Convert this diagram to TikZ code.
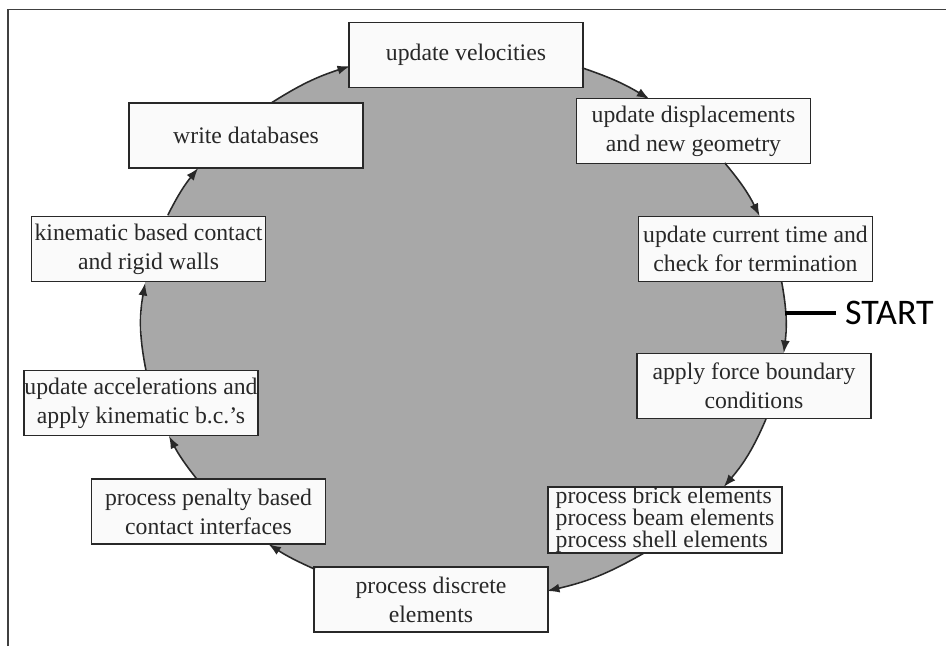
\documentclass[tikz,border=0pt]{standalone}
\usepackage{fontspec}
\setmainfont{Liberation Serif}
\newfontfamily\startfont{Carlito}
\usepackage{xcolor}
\usepackage{tikz}
\usetikzlibrary{arrows.meta}
\definecolor{ringgray}{RGB}{168,168,168}
\definecolor{boxfill}{RGB}{250,250,250}
\definecolor{inkgray}{RGB}{40,40,40}
\tikzset{
  task/.style={rectangle, draw=inkgray, line width=1pt, fill=boxfill, minimum width=4.68cm, minimum height=1.3cm, inner sep=0pt, align=center, text=inkgray, font=\fontsize{13.5}{16.5}\selectfont},
  arrow/.style={-{Latex[length=2.5mm,width=1.8mm]}, line width=0.9pt, draw=inkgray},
  startlbl/.style={anchor=west, inner xsep=5pt, inner ysep=0pt, text=black, font=\startfont\fontsize{20.5}{24}\selectfont},
  startline/.style={line width=2.4pt, draw=black},
}

\begin{document}
\begin{tikzpicture}[x=0.02cm, y=-0.02cm]
\useasboundingbox (0,0) rectangle (946,646);
\draw[line width=0.6pt, black!75] (8,646) -- (8,9.5) -- (946,9.5);
\fill[ringgray] (463.5,324.4) ellipse [x radius=322, y radius=276];
\node[task] (vel) at (466,55) {update velocities};
\node[task] (disp) at (693.5,131) {update displacements\\and new geometry};
\node[task] (time) at (755.5,249) {update current time and\\check for termination};
\node[task] (force) at (754,386) {apply force boundary\\conditions};
\node[task, align=left] (elems) at (665,520) {process brick elements\\[-4pt]process beam elements\\[-4pt]process shell elements};
\node[task] (disc) at (431,599.5) {process discrete\\elements};
\node[task] (pen) at (208.5,511.5) {process penalty based\\contact interfaces};
\node[task] (acc) at (141,403) {update accelerations and\\apply kinematic b.c.'s};
\node[task] (kin) at (148.5,249) {kinematic based contact\\and rigid walls};
\node[task] (wdb) at (246,135.5) {write databases};
\node[startlbl] (start) at (836,313) {START};
\coordinate (vel-o) at (582.0,67.8);
\coordinate (disp-i) at (649.3,99.0);
\coordinate (disp-o) at (724.7,162.9);
\coordinate (time-i) at (759.6,216.0);
\coordinate (time-o) at (781.7,282.0);
\coordinate (force-i) at (783.8,353.0);
\coordinate (force-o) at (766.0,419.0);
\coordinate (elems-i) at (723.7,487.0);
\coordinate (elems-o) at (644.0,553.0);
\coordinate (disc-i) at (547.0,591.0);
\coordinate (disc-o) at (315.0,569.3);
\coordinate (pen-i) at (268.4,544.0);
\coordinate (pen-o) at (196.8,479.0);
\coordinate (acc-i) at (169.0,436.0);
\coordinate (acc-o) at (145.9,370.0);
\coordinate (kin-i) at (145.1,283.0);
\coordinate (kin-o) at (167.9,215.0);
\coordinate (wdb-i) at (198.2,168.0);
\coordinate (wdb-o) at (271.2,103.0);
\coordinate (vel-i) at (350.0,66.1);
\coordinate (sp) at (785.2,313.0);
\draw[arrow] (vel-o) to[out=-18.7, in=148.8] (disp-i);
\draw[arrow] (disp-o) to[out=-49.9, in=116.5] (time-i);
\draw[arrow] (time-o) to[out=-79.7, in=83.1] (force-i);
\draw[arrow] (force-o) to[out=-113.1, in=49.6] (elems-i);
\draw[arrow] (elems-o) to[out=-149.9, in=13.0] (disc-i);
\draw[arrow] (disc-o) to[out=156.0, in=-33.2] (pen-i);
\draw[arrow] (pen-o) to[out=128.3, in=-62.7] (acc-i);
\draw[arrow] (acc-o) to[out=101.1, in=-100.0] (kin-i);
\draw[arrow] (kin-o) to[out=63.3, in=-128.8] (wdb-i);
\draw[arrow] (wdb-o) to[out=32.5, in=-162.1] (vel-i);
\draw[startline] (start.west) -- (sp);
\end{tikzpicture}
\end{document}
